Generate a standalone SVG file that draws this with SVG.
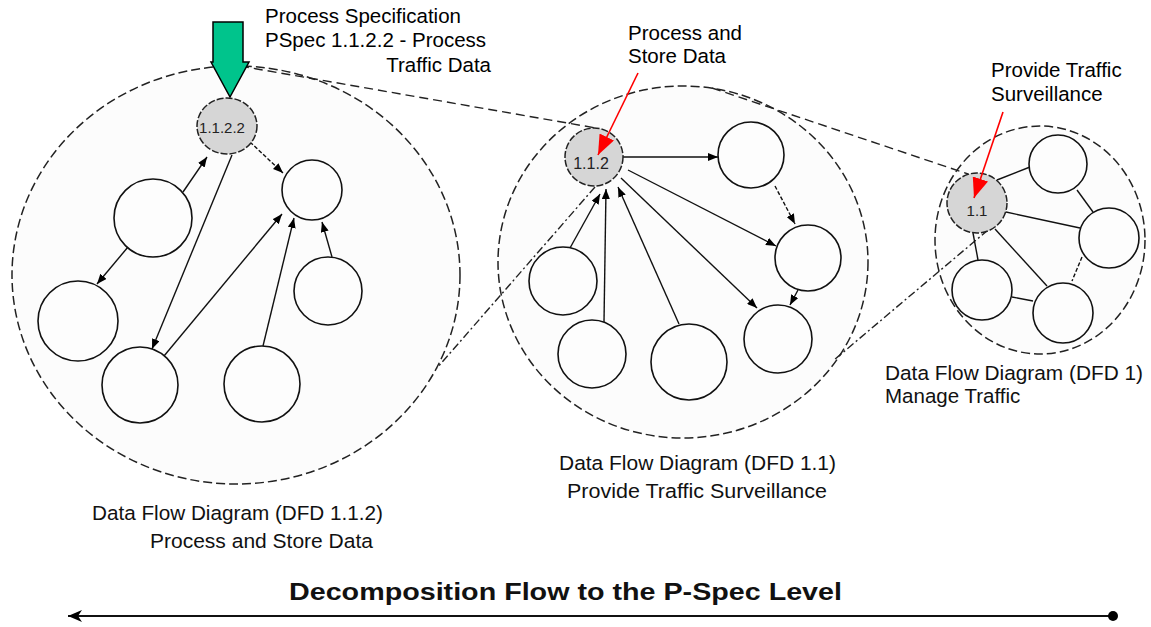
<svg xmlns="http://www.w3.org/2000/svg" width="1151" height="627" viewBox="0 0 1151 627">
<style>
.big{fill:#fcfcfc;stroke:#222;stroke-width:1.5;stroke-dasharray:9 4}
.nd{fill:#fdfdfd;stroke:#111;stroke-width:1.6}
.gn{fill:#d6d6d6;stroke:#222;stroke-width:1.5;stroke-dasharray:7 2}
.c{fill:none;stroke:#111;stroke-width:1.4}
.ca{fill:none;stroke:#111;stroke-width:1.4;marker-end:url(#ah)}
.dt{stroke-dasharray:4 2}
.tg{fill:none;stroke:#222;stroke-width:1.4;stroke-dasharray:9 5}
.td{fill:none;stroke:#222;stroke-width:1.4;stroke-dasharray:8 3 2 3}
.red{fill:none;stroke:#ff0000;stroke-width:1.6;marker-end:url(#rh)}
.lb{font-family:"Liberation Sans",Arial,sans-serif;font-size:20.5px;fill:#000}
.cap{font-family:"Liberation Sans",Arial,sans-serif;font-size:20.5px;fill:#111}
.nt{font-family:"Liberation Sans",Arial,sans-serif;fill:#222;text-anchor:middle}
</style>
<defs>
<marker id="ah" markerUnits="userSpaceOnUse" markerWidth="10" markerHeight="8" refX="10" refY="4" orient="auto"><path d="M0,0 L10,4 L0,8 z" fill="#000"/></marker>
<marker id="rh" markerUnits="userSpaceOnUse" markerWidth="20" markerHeight="16" refX="20" refY="8" orient="auto"><path d="M0,0 L20,8 L0,16 z" fill="#ff0000"/></marker>
<marker id="bh" markerUnits="userSpaceOnUse" markerWidth="14" markerHeight="12" refX="14" refY="6" orient="auto-start-reverse"><path d="M0,0 L14,6 L0,12 L4,6 z" fill="#000"/></marker>
</defs>
<rect width="1151" height="627" fill="#ffffff"/>

<g id="dfd112">
<ellipse class="big" cx="236" cy="275" rx="224" ry="209"/>
</g>
<g id="dfd11">
<ellipse class="big" cx="683" cy="262" rx="185" ry="176"/>
</g>
<g id="dfd1">
<ellipse class="big" cx="1040" cy="240" rx="105" ry="114"/>
</g>

<g id="connectors">
<line class="tg" x1="240" y1="66" x2="596" y2="128"/>
<line class="td" x1="595" y1="187" x2="437" y2="368"/>
<line class="tg" x1="712" y1="88" x2="968" y2="174"/>
<line class="td" x1="988" y1="230" x2="834" y2="360"/>
<line class="ca" x1="183" y1="192" x2="207" y2="157"/>
<line class="ca" x1="128" y1="247" x2="97" y2="284"/>
<line class="ca" x1="232" y1="155" x2="152" y2="349"/>
<line class="ca" x1="164" y1="356" x2="282" y2="214"/>
<line class="ca" x1="263" y1="346" x2="294" y2="218"/>
<line class="ca" x1="332" y1="257" x2="322" y2="222"/>
<line class="ca dt" x1="250" y1="142" x2="283" y2="173"/>
<line class="ca" x1="623" y1="157" x2="718" y2="157"/>
<line class="ca dt" x1="775" y1="186" x2="795" y2="224"/>
<line class="ca" x1="628" y1="170" x2="776" y2="246"/>
<line class="ca" x1="798" y1="290" x2="790" y2="305"/>
<line class="ca" x1="621" y1="178" x2="757" y2="308"/>
<line class="ca" x1="679" y1="324" x2="618" y2="187"/>
<line class="ca" x1="604" y1="322" x2="606" y2="189"/>
<line class="ca" x1="570" y1="248" x2="600" y2="194"/>
<line class="c" x1="997" y1="180" x2="1030" y2="167"/>
<line class="c" x1="1006" y1="212" x2="1080" y2="228"/>
<line class="c" x1="973" y1="233" x2="978" y2="260"/>
<line class="c" x1="995" y1="229" x2="1047" y2="286"/>
<line class="c" x1="1077" y1="190" x2="1093" y2="212"/>
<line class="c dt" x1="1082" y1="257" x2="1072" y2="281"/>
<line class="c" x1="1012" y1="297" x2="1033" y2="301"/>
</g>

<g id="n1122"><ellipse class="gn" cx="227" cy="126" rx="30" ry="28"/><text class="nt" x="222" y="133" font-size="15">1.1.2.2</text></g>
<g id="n_a"><circle class="nd" cx="153" cy="218" r="39"/></g>
<g id="n_b"><circle class="nd" cx="78" cy="321" r="40"/></g>
<g id="n_c"><circle class="nd" cx="312" cy="190" r="30"/></g>
<g id="n_d"><circle class="nd" cx="328" cy="291" r="34"/></g>
<g id="n_e"><circle class="nd" cx="262" cy="384" r="38"/></g>
<g id="n_f"><circle class="nd" cx="140" cy="385" r="38"/></g>

<g id="n112"><circle class="gn" cx="594" cy="157" r="29"/><text class="nt" x="591" y="169" font-size="16">1.1.2</text></g>
<g id="n_p"><circle class="nd" cx="751" cy="155" r="33"/></g>
<g id="n_q"><circle class="nd" cx="808" cy="258" r="33"/></g>
<g id="n_r"><circle class="nd" cx="778" cy="339" r="34"/></g>
<g id="n_l"><circle class="nd" cx="563" cy="281" r="34"/></g>
<g id="n_s"><circle class="nd" cx="592" cy="354" r="34"/></g>
<g id="n_t"><circle class="nd" cx="689" cy="362" r="38"/></g>

<g id="n11"><circle class="gn" cx="977" cy="203" r="30"/><text class="nt" x="977" y="216" font-size="15">1.1</text></g>
<g id="n_u"><circle class="nd" cx="1058" cy="164" r="29"/></g>
<g id="n_v"><circle class="nd" cx="1109" cy="238" r="30"/></g>
<g id="n_w"><circle class="nd" cx="982" cy="290" r="30"/></g>
<g id="n_x"><circle class="nd" cx="1063" cy="313" r="30"/></g>

<g id="pspec">
<polygon points="213,22 243,22 243,62 249,62 230,97 211,62 213,62" fill="#00c48c" stroke="#000" stroke-width="1.5"/>
<text class="lb" x="265" y="23">Process Specification</text>
<text class="lb" x="265" y="47">PSpec 1.1.2.2 - Process</text>
<text class="lb" x="491" y="72" text-anchor="end">Traffic Data</text>
</g>

<g id="callout112">
<text class="lb" x="628" y="40">Process and</text>
<text class="lb" x="628" y="63">Store Data</text>
<line class="red" x1="638" y1="73" x2="598" y2="155"/>
</g>
<g id="callout11">
<text class="lb" x="991" y="77">Provide Traffic</text>
<text class="lb" x="991" y="101">Surveillance</text>
<line class="red" x1="1003" y1="112" x2="974" y2="198"/>
</g>

<g id="captions">
<text class="cap" x="92" y="520" textLength="291" lengthAdjust="spacingAndGlyphs">Data Flow Diagram (DFD 1.1.2)</text>
<text class="cap" x="150" y="548" textLength="223" lengthAdjust="spacingAndGlyphs">Process and Store Data</text>
<text class="cap" x="559" y="470" textLength="277" lengthAdjust="spacingAndGlyphs">Data Flow Diagram (DFD 1.1)</text>
<text class="cap" x="567" y="498" textLength="260" lengthAdjust="spacingAndGlyphs">Provide Traffic Surveillance</text>
<text class="cap" x="885" y="380" textLength="258" lengthAdjust="spacingAndGlyphs">Data Flow Diagram (DFD 1)</text>
<text class="cap" x="885" y="403">Manage Traffic</text>
</g>

<g id="decomposition">
<text x="289" y="600" font-family="Liberation Sans,Arial,sans-serif" font-weight="bold" font-size="23" fill="#111" textLength="553" lengthAdjust="spacingAndGlyphs">Decomposition Flow to the P-Spec Level</text>
<line x1="68" y1="616" x2="1113" y2="616" stroke="#111" stroke-width="2" marker-start="url(#bh)"/>
<circle cx="1113" cy="616" r="5" fill="#000"/>
</g>
</svg>
